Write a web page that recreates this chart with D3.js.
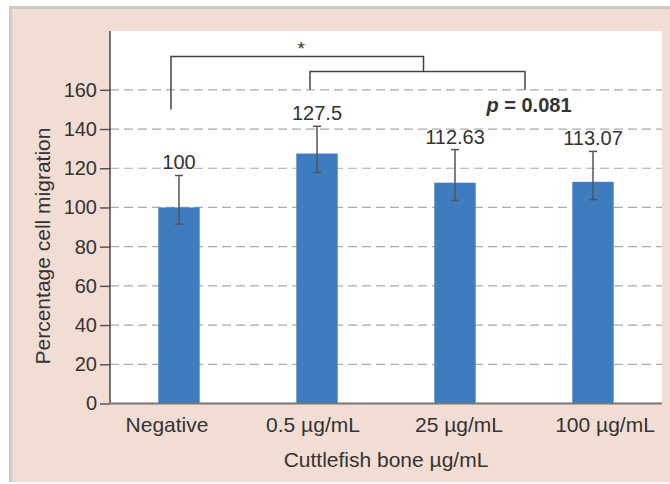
<!DOCTYPE html>
<html>
<head>
<meta charset="utf-8">
<script src="https://cdn.jsdelivr.net/npm/d3@7/dist/d3.min.js"></script>
<style>
  body { margin: 0; background: #ffffff; }
  text { font-family: "Liberation Sans", Arial, sans-serif; fill: #333333; }
</style>
</head>
<body>
<script>

// values
var groups = ["Negative", "0.5 \u00b5g/mL", "25 \u00b5g/mL", "100 \u00b5g/mL"];
var means = [100, 127.5, 112.63, 113.07];
var valueLabels = ["100", "127.5", "112.63", "113.07"];
var errLow = [91.5, 117.9, 103.6, 104];
var errHigh = [116.3, 141.4, 129.5, 128.6];
var yTicks = [0, 20, 40, 60, 80, 100, 120, 140, 160];

// significance brackets, levels in data units
var starBracket = { legLeft: 150, top: 177, legRight: 169.4, label: "*" };
var pBracket = { legLeft: 160, top: 169.4, legRight: 160, label: "0.081" };

var w = 670;
var h = 484;
// plot area edges (window.top is reserved, so no plain "top")
var plotL = 110, plotR = 662, plotT = 31, plotB = 403.5;

var svg = d3.select("body")
    .append("svg")
    .attr("width", w)
    .attr("height", h);

// panel background
svg.append("rect")
    .attr("x", 9).attr("y", 6)
    .attr("width", w - 9).attr("height", 476)
    .attr("fill", "#cfcac8");
svg.append("rect")
    .attr("x", 12).attr("y", 9)
    .attr("width", w - 12).attr("height", 473)
    .attr("fill", "#f2ddd4");

// plot area
svg.append("rect")
    .attr("x", plotL).attr("y", plotT)
    .attr("width", plotR - plotL).attr("height", plotB - plotT)
    .attr("fill", "#ffffff");

var xScale = d3.scaleBand()
    .domain(groups)
    .range([plotL, plotR])
    .paddingInner(0.7)
    .paddingOuter(0.35);

// the category labels sit a little wider apart than the bars in the original
var xLabelScale = d3.scaleBand()
    .domain(groups)
    .range([94, 678]);

var yScale = d3.scaleLinear()
    .domain([0, 190])
    .range([plotB, plotT]);

var cx = function(i) { return xScale(groups[i]) + xScale.bandwidth() / 2; };

// dashed grid
svg.selectAll("line.grid")
    .data(yTicks.filter(function(d) { return d > 0; }))
    .enter()
    .append("line")
    .attr("class", "grid")
    .attr("x1", plotL)
    .attr("x2", plotR)
    .attr("y1", function(d) { return yScale(d); })
    .attr("y2", function(d) { return yScale(d); })
    .attr("stroke", "#aaaaaa")
    .attr("stroke-width", 1.2)
    .attr("stroke-dasharray", "9,5");

// bars
svg.selectAll("rect.bar")
    .data(means)
    .enter()
    .append("rect")
    .attr("class", "bar")
    .attr("x", function(d, i) { return xScale(groups[i]); })
    .attr("y", function(d) { return yScale(d); })
    .attr("width", xScale.bandwidth())
    .attr("height", function(d) { return plotB - yScale(d); })
    .attr("fill", "#3e7bbf");

// error bars
var err = svg.selectAll("g.err")
    .data(means)
    .enter()
    .append("g")
    .attr("class", "err")
    .attr("stroke", "#555555")
    .attr("stroke-width", 1.5);

err.append("line")
    .attr("x1", function(d, i) { return cx(i); })
    .attr("x2", function(d, i) { return cx(i); })
    .attr("y1", function(d, i) { return yScale(errLow[i]); })
    .attr("y2", function(d, i) { return yScale(errHigh[i]); });
err.append("line")
    .attr("x1", function(d, i) { return cx(i) - 4; })
    .attr("x2", function(d, i) { return cx(i) + 4; })
    .attr("y1", function(d, i) { return yScale(errHigh[i]); })
    .attr("y2", function(d, i) { return yScale(errHigh[i]); });
err.append("line")
    .attr("x1", function(d, i) { return cx(i) - 4; })
    .attr("x2", function(d, i) { return cx(i) + 4; })
    .attr("y1", function(d, i) { return yScale(errLow[i]); })
    .attr("y2", function(d, i) { return yScale(errLow[i]); });

// value labels
svg.selectAll("text.val")
    .data(valueLabels)
    .enter()
    .append("text")
    .attr("class", "val")
    .attr("x", function(d, i) { return cx(i); })
    .attr("y", function(d, i) { return yScale(errHigh[i]) - 6; })
    .attr("text-anchor", "middle")
    .attr("font-size", 20)
    .text(function(d) { return d; });

// y axis
var yAxis = d3.axisLeft(yScale)
    .tickValues(yTicks)
    .tickSize(10)
    .tickPadding(3);
var gy = svg.append("g")
    .attr("transform", "translate(" + plotL + ",0)")
    .call(yAxis);
gy.select(".domain").remove();
gy.selectAll(".tick line").attr("stroke", "#555555").attr("stroke-width", 1.5);
gy.selectAll(".tick text")
    .attr("font-size", 20)
    .attr("font-family", "Liberation Sans, Arial, sans-serif")
    .attr("fill", "#333333");
svg.append("line")
    .attr("x1", plotL).attr("x2", plotL)
    .attr("y1", plotT).attr("y2", plotB)
    .attr("stroke", "#444444")
    .attr("stroke-width", 1.5);

// x axis
var xAxis = d3.axisBottom(xLabelScale).tickSize(0).tickPadding(14);
var gx = svg.append("g")
    .attr("transform", "translate(0," + plotB + ")")
    .call(xAxis);
gx.select(".domain").remove();
gx.selectAll(".tick text")
    .attr("font-size", 21)
    .attr("font-family", "Liberation Sans, Arial, sans-serif")
    .attr("fill", "#333333");
svg.append("line")
    .attr("x1", plotL - 1).attr("x2", plotR)
    .attr("y1", plotB).attr("y2", plotB)
    .attr("stroke", "#777777")
    .attr("stroke-width", 1.8);

// axis titles
svg.append("text")
    .attr("x", (plotL + plotR) / 2)
    .attr("y", 467)
    .attr("text-anchor", "middle")
    .attr("font-size", 21)
    .text("Cuttlefish bone \u00b5g/mL");

svg.append("text")
    .attr("transform", "translate(50," + 246 + ") rotate(-90)")
    .attr("text-anchor", "middle")
    .attr("font-size", 21)
    .text("Percentage cell migration");

// brackets
var mid34 = (cx(2) + cx(3)) / 2;
var p1 = cx(1) - 7, p2 = mid34 + 1;
var s1 = cx(0) - 8, s2 = (p1 + p2) / 2 + 6;

svg.append("path")
    .attr("d", "M" + p1 + "," + yScale(pBracket.legLeft) +
        "V" + yScale(pBracket.top) + "H" + p2 + "V" + yScale(pBracket.legRight))
    .attr("fill", "none")
    .attr("stroke", "#444444")
    .attr("stroke-width", 1.5);

svg.append("path")
    .attr("d", "M" + s1 + "," + yScale(starBracket.legLeft) +
        "V" + yScale(starBracket.top) + "H" + s2 + "V" + yScale(starBracket.legRight))
    .attr("fill", "none")
    .attr("stroke", "#444444")
    .attr("stroke-width", 1.5);

svg.append("text")
    .attr("x", (s1 + s2) / 2 + 4)
    .attr("y", yScale(starBracket.top) - 1)
    .attr("text-anchor", "middle")
    .attr("font-size", 19)
    .text(starBracket.label);

var pText = svg.append("text")
    .attr("x", p2 + 4)
    .attr("y", 112)
    .attr("text-anchor", "middle")
    .attr("font-size", 20)
    .attr("font-weight", "bold");
pText.append("tspan").attr("font-style", "italic").text("p");
pText.append("tspan").text(" = " + pBracket.label);

</script>
</body>
</html>
